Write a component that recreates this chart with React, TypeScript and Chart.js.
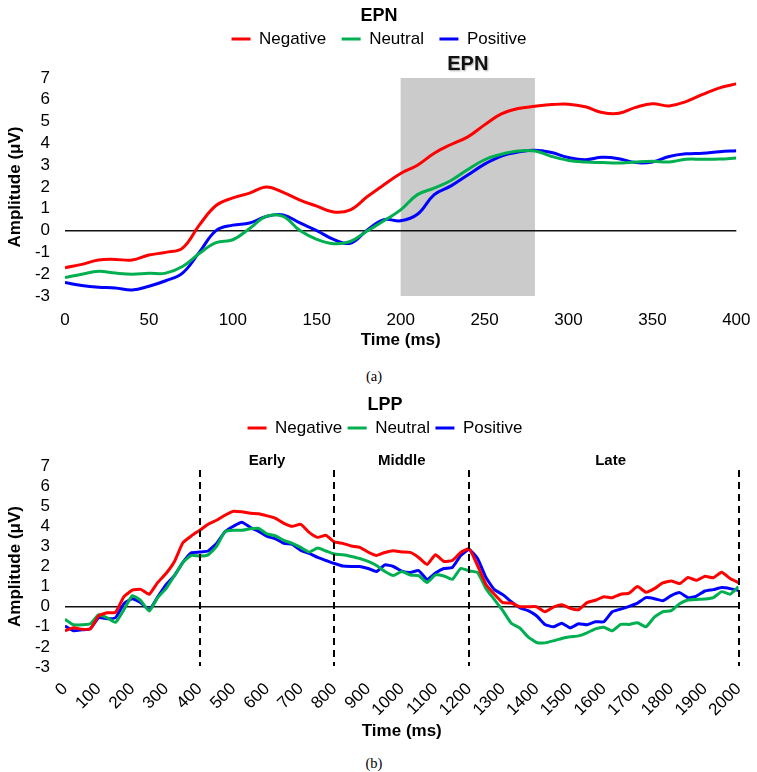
import { useEffect, useRef } from "react";
import { Chart, registerables } from "chart.js";

Chart.register(...registerables);

const SANS = "'Liberation Sans', Arial, Helvetica, sans-serif";
const SERIF = "'Liberation Serif', 'Times New Roman', serif";

const seriesLabels = ["Negative", "Neutral", "Positive"];
const seriesColors = ["#FF0000", "#00B050", "#0000FF"];

// ---- EPN panel: grand-average waveforms, 0–400 ms ----
const epnTimes = [
  0, 10, 20, 30, 40, 50, 60, 70, 80, 90,
  100, 110, 120, 130, 140, 150, 160, 170, 180, 190,
  200, 210, 220, 230, 240, 250, 260, 270, 280, 290,
  300, 310, 320, 330, 340, 350, 360, 370, 380, 390,
  400,
];
const epnNegative = [
  -1.7, -1.55, -1.35, -1.32, -1.35, -1.12, -1.0, -0.8, 0.25, 1.15,
  1.5, 1.72, 2.0, 1.75, 1.4, 1.12, 0.85, 0.95, 1.55, 2.1,
  2.62, 3.0, 3.55, 3.95, 4.3, 4.85, 5.35, 5.6, 5.7, 5.78,
  5.8, 5.68, 5.42, 5.38, 5.65, 5.82, 5.72, 5.92, 6.25, 6.55,
  6.73,
];
const epnNeutral = [
  -2.15, -2.0, -1.87, -1.95, -2.0, -1.96, -1.95, -1.65, -1.05, -0.55,
  -0.42, 0.1, 0.65, 0.65, 0.0, -0.4, -0.6, -0.5, -0.02, 0.45,
  0.95, 1.65, 1.95, 2.3, 2.8, 3.25, 3.5, 3.65, 3.65, 3.4,
  3.22, 3.15, 3.12, 3.1, 3.15, 3.18, 3.15, 3.27, 3.27, 3.28,
  3.33,
];
const epnPositive = [
  -2.38, -2.52, -2.6, -2.63, -2.72, -2.55, -2.3, -1.95, -1.0, 0.0,
  0.25, 0.35, 0.65, 0.72, 0.35, 0.0, -0.4, -0.58, 0.02, 0.5,
  0.45, 0.75, 1.65, 2.05, 2.55, 3.05, 3.42, 3.6, 3.69, 3.58,
  3.35, 3.25, 3.36, 3.3, 3.12, 3.15, 3.4, 3.52, 3.55, 3.62,
  3.66,
];
const epnWindow = [200, 280];
const epnWindowLabel = "EPN";

// ---- LPP panel: grand-average waveforms, 0–2000 ms ----
const lppTimes = [
  0, 25, 50, 75, 100, 125, 150, 175, 200, 225,
  250, 275, 300, 325, 350, 375, 400, 425, 450, 475,
  500, 525, 550, 575, 600, 625, 650, 675, 700, 725,
  750, 775, 800, 825, 850, 875, 900, 925, 950, 975,
  1000, 1025, 1050, 1075, 1100, 1125, 1150, 1175, 1200, 1225,
  1250, 1275, 1300, 1325, 1350, 1375, 1400, 1425, 1450, 1475,
  1500, 1525, 1550, 1575, 1600, 1625, 1650, 1675, 1700, 1725,
  1750, 1775, 1800, 1825, 1850, 1875, 1900, 1925, 1950, 1975,
  2000,
];
const lppNegative = [
  -1.2, -1.05, -1.12, -1.1, -0.45, -0.3, -0.28, 0.5, 0.82, 0.86,
  0.62, 1.2, 1.65, 2.25, 3.18, 3.52, 3.8, 4.1, 4.3, 4.55,
  4.75, 4.72, 4.65, 4.62, 4.52, 4.4, 4.15, 4.0, 4.1, 3.7,
  3.45, 3.55, 3.22, 3.15, 3.02, 2.95, 2.72, 2.55, 2.7, 2.78,
  2.72, 2.7, 2.45, 2.1, 2.58, 2.25, 2.3, 2.7, 2.88, 2.05,
  1.1, 0.62, 0.2, 0.18, 0.0, 0.0, 0.0, -0.25, -0.02, 0.1,
  -0.08, -0.15, 0.2, 0.32, 0.5, 0.45, 0.62, 0.68, 1.0, 0.72,
  0.9, 1.18, 1.28, 1.15, 1.45, 1.31, 1.52, 1.44, 1.72, 1.4,
  1.2,
];
const lppNeutral = [
  -0.63, -0.9, -0.9, -0.85, -0.4, -0.55, -0.78, -0.15, 0.55, 0.3,
  -0.22, 0.45, 0.9, 1.55, 2.2, 2.55, 2.52, 2.58, 3.0, 3.73,
  3.8, 3.8, 3.88, 3.9, 3.62, 3.52, 3.3, 3.15, 2.95, 2.72,
  2.92, 2.77, 2.62, 2.58, 2.5, 2.4, 2.25, 2.05, 1.75, 1.55,
  1.75, 1.58, 1.55, 1.2, 1.58, 1.53, 1.36, 1.9, 1.78, 1.7,
  0.9, 0.35, -0.2, -0.82, -1.05, -1.5, -1.78, -1.8, -1.7, -1.58,
  -1.5, -1.45, -1.3, -1.1, -1.02, -1.2, -0.88, -0.88, -0.8, -1.0,
  -0.52, -0.25, -0.2, 0.15, 0.33, 0.36, 0.38, 0.45, 0.75, 0.62,
  1.0,
];
const lppPositive = [
  -0.96, -1.2, -1.15, -1.1, -0.55, -0.6, -0.55, 0.15, 0.4, 0.2,
  -0.15, 0.48, 1.1, 1.55, 2.2, 2.68, 2.72, 2.77, 3.15, 3.73,
  4.0, 4.2, 3.95, 3.75, 3.5, 3.38, 3.15, 3.1, 2.8, 2.65,
  2.45, 2.3, 2.15, 2.02, 2.0, 2.0, 1.9, 1.75, 2.08, 2.0,
  1.77, 1.7, 1.8, 1.36, 1.68, 1.9, 1.95, 2.55, 2.85, 2.4,
  1.45, 0.85, 0.6, 0.25, -0.05, -0.2, -0.45, -0.88, -1.0, -0.82,
  -1.05, -0.85, -0.9, -0.75, -0.75, -0.25, -0.12, 0.02, 0.18, 0.45,
  0.4, 0.3, 0.55, 0.7, 0.45, 0.53, 0.78, 0.85, 0.95, 0.9,
  0.81,
];
const lppBoundaries = [400, 800, 1200, 2000];
const lppPhaseLabels = ["Early", "Middle", "Late"];
const lppPhaseCenters = [600, 1000, 1620];

const yMin = -3;
const yMax = 7;

function makeDataset(label: string, color: string, times: number[], values: number[], width: number, tension: number) {
  return {
    label,
    data: times.map((t, i) => ({ x: t, y: values[i] })),
    borderColor: color,
    backgroundColor: color,
    borderWidth: width,
    pointRadius: 0,
    tension,
    fill: false,
  };
}

// Adds blank space under the legend so the plot starts lower.
function legendGap(extra: number) {
  return {
    id: "legendGap",
    beforeInit(chart: any) {
      const legend = chart.legend;
      if (!legend) return;
      const fit = legend.fit;
      legend.fit = function () {
        fit.call(this);
        this.height += extra;
      };
    },
  };
}

const PLOT_LEFT = 65;

function baseOptions(opts: {
  title: string;
  titlePad: { top: number; bottom: number };
  legendPad: number;
  xMax: number;
  xStep: number;
  xRotation: number;
  xHeight: number;
  xTickPad: number;
  padLeft: number;
  padRight: number;
  padBottom: number;
}) {
  return {
    responsive: false,
    animation: false as const,
    layout: { padding: { left: opts.padLeft, right: opts.padRight, top: 0, bottom: opts.padBottom } },
    plugins: {
      tooltip: { enabled: false },
      title: {
        display: true,
        text: opts.title,
        color: "#000",
        font: { family: SANS, size: 18, weight: "bold" as const },
        padding: opts.titlePad,
      },
      legend: {
        position: "top" as const,
        labels: {
          color: "#000",
          font: { family: SANS, size: 17 },
          boxWidth: 19,
          boxHeight: 3,
          padding: opts.legendPad,
          generateLabels: (chart: any) =>
            chart.data.datasets.map((ds: any, i: number) => ({
              text: ds.label,
              fillStyle: ds.borderColor,
              strokeStyle: ds.borderColor,
              lineWidth: 0,
              hidden: false,
              datasetIndex: i,
              fontColor: "#000",
            })),
        },
      },
    },
    scales: {
      x: {
        type: "linear" as const,
        min: 0,
        max: opts.xMax,
        grid: { display: false },
        border: { display: false },
        ticks: {
          stepSize: opts.xStep,
          autoSkip: false,
          minRotation: opts.xRotation,
          maxRotation: opts.xRotation,
          padding: opts.xTickPad,
          color: "#000",
          font: { family: SANS, size: 17 },
          callback: (v: any) => String(v),
        },
        title: {
          display: true,
          text: "Time (ms)",
          color: "#000",
          font: { family: SANS, size: 17, weight: "bold" as const },
          padding: { top: 4, bottom: 0 },
        },
        afterFit: (scale: any) => {
          scale.height = opts.xHeight;
        },
      },
      y: {
        type: "linear" as const,
        min: yMin,
        max: yMax,
        grid: {
          drawTicks: false,
          lineWidth: 1.5,
          color: (c: any) => (c.tick && c.tick.value === 0 ? "#111" : "rgba(0,0,0,0)"),
        },
        border: { display: false },
        ticks: {
          stepSize: 1,
          autoSkip: false,
          padding: 15,
          color: "#000",
          font: { family: SANS, size: 17 },
          callback: (v: any) => String(v),
        },
        title: {
          display: true,
          text: "Amplitude (μV)",
          color: "#000",
          font: { family: SANS, size: 17, weight: "bold" as const },
          // keep the rotated title near the canvas edge whatever the left padding
          padding: { top: 5.3 - opts.padLeft, bottom: 0 },
        },
        afterFit: (scale: any) => {
          scale.width = PLOT_LEFT - opts.padLeft;
        },
      },
    },
  };
}

// Grey EPN analysis window with its label.
const epnWindowPlugin = {
  id: "epnWindow",
  beforeDraw(chart: any) {
    const { ctx, scales } = chart;
    const x0 = scales.x.getPixelForValue(epnWindow[0]);
    const x1 = scales.x.getPixelForValue(epnWindow[1]);
    const y0 = scales.y.getPixelForValue(yMax);
    const y1 = scales.y.getPixelForValue(yMin);
    ctx.save();
    ctx.fillStyle = "#CBCBCB";
    ctx.fillRect(x0, y0, x1 - x0, y1 - y0);
    ctx.restore();
  },
  afterDraw(chart: any) {
    const { ctx, scales, chartArea } = chart;
    const cx = scales.x.getPixelForValue((epnWindow[0] + epnWindow[1]) / 2);
    ctx.save();
    ctx.font = `bold 20px ${SANS}`;
    ctx.textAlign = "center";
    ctx.textBaseline = "middle";
    ctx.shadowColor = "rgba(0,0,0,0.35)";
    ctx.shadowBlur = 2;
    ctx.shadowOffsetX = 1;
    ctx.shadowOffsetY = 1;
    ctx.fillStyle = "#111";
    ctx.fillText(epnWindowLabel, cx, chartArea.top - 14);
    ctx.restore();
  },
};

// Dashed LPP window boundaries and the phase names above them.
const lppWindowPlugin = {
  id: "lppWindows",
  afterDatasetsDraw(chart: any) {
    const { ctx, scales } = chart;
    const yTop = scales.y.getPixelForValue(6.8);
    const yBot = scales.y.getPixelForValue(-2.95);
    ctx.save();
    ctx.strokeStyle = "#000";
    ctx.lineWidth = 2;
    ctx.setLineDash([7, 5]);
    lppBoundaries.forEach((t) => {
      const x = Math.round(scales.x.getPixelForValue(t));
      ctx.beginPath();
      ctx.moveTo(x, yTop);
      ctx.lineTo(x, yBot);
      ctx.stroke();
    });
    ctx.restore();
  },
  afterDraw(chart: any) {
    const { ctx, scales, chartArea } = chart;
    ctx.save();
    ctx.font = `bold 15px ${SANS}`;
    ctx.textAlign = "center";
    ctx.textBaseline = "middle";
    ctx.fillStyle = "#000";
    lppPhaseLabels.forEach((label, i) => {
      ctx.fillText(label, scales.x.getPixelForValue(lppPhaseCenters[i]), chartArea.top - 5);
    });
    ctx.restore();
  },
};

export default function App() {
  const topRef = useRef<HTMLCanvasElement>(null);
  const bottomRef = useRef<HTMLCanvasElement>(null);

  useEffect(() => {
    const epnValues = [epnNegative, epnNeutral, epnPositive];
    const lppValues = [lppNegative, lppNeutral, lppPositive];

    const epnChart = new Chart(topRef.current as HTMLCanvasElement, {
      type: "line",
      data: {
        datasets: seriesLabels.map((label, i) =>
          makeDataset(label, seriesColors[i], epnTimes, epnValues[i], 3, 0.4)
        ),
      },
      options: baseOptions({
        title: "EPN",
        titlePad: { top: 5.2, bottom: -11.8 },
        legendPad: 15.5,
        xMax: 400,
        xStep: 50,
        xRotation: 0,
        xHeight: 54.6,
        xTickPad: 6.5,
        padLeft: 17,
        padRight: 16,
        padBottom: 9.4,
      }) as any,
      plugins: [legendGap(20.5), epnWindowPlugin],
    });

    const lppChart = new Chart(bottomRef.current as HTMLCanvasElement, {
      type: "line",
      data: {
        datasets: seriesLabels.map((label, i) =>
          makeDataset(label, seriesColors[i], lppTimes, lppValues[i], 3, 0.15)
        ),
      },
      options: baseOptions({
        title: "LPP",
        titlePad: { top: 4.2, bottom: -1.8 },
        legendPad: 5.5,
        xMax: 2000,
        xStep: 100,
        xRotation: 45,
        xHeight: 74.2,
        xTickPad: 4,
        padLeft: 31,
        padRight: 18,
        padBottom: 8.8,
      }) as any,
      plugins: [legendGap(19.5), lppWindowPlugin],
    });

    return () => {
      epnChart.destroy();
      lppChart.destroy();
    };
  }, []);

  const caption = (top: number, text: string) => (
    <div
      style={{
        position: "absolute",
        left: 344,
        top,
        width: 60,
        textAlign: "center",
        fontFamily: SERIF,
        fontSize: 14.5,
        lineHeight: "18px",
        color: "#000",
      }}
    >
      {text}
    </div>
  );

  return (
    <div
      style={{
        position: "fixed",
        left: 0,
        top: 0,
        width: 757,
        height: 772,
        background: "#fff",
        overflow: "hidden",
      }}
    >
      <canvas ref={topRef} width={757} height={360} style={{ position: "absolute", left: 0, top: 0 }} />
      {caption(367, "(a)")}
      <canvas ref={bottomRef} width={757} height={360} style={{ position: "absolute", left: 0, top: 390 }} />
      {caption(754, "(b)")}
    </div>
  );
}
